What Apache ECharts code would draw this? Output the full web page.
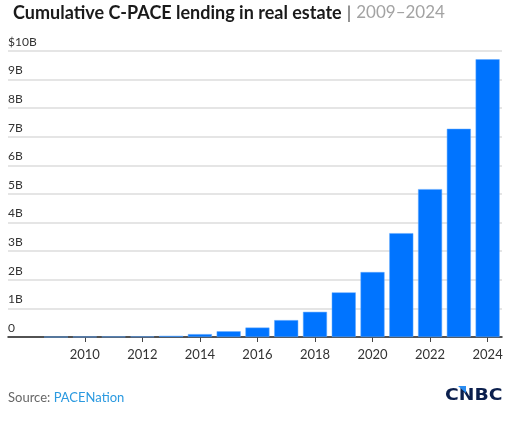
<!DOCTYPE html>
<html>
<head>
<meta charset="utf-8">
<script src="https://cdn.jsdelivr.net/npm/echarts@6/dist/echarts.min.js"></script>
<style>
  html, body { margin: 0; padding: 0; background: #fff; }
  #chart { width: 519px; height: 421px; }
</style>
</head>
<body>
<div id="chart"></div>
<script>
// cumulative lending, billions of dollars
var years = [2009, 2010, 2011, 2012, 2013, 2014, 2015, 2016, 2017, 2018, 2019, 2020, 2021, 2022, 2023, 2024];
var lending = [0, 0.005, 0.01, 0.015, 0.04, 0.1, 0.2, 0.33, 0.59, 0.88, 1.56, 2.27, 3.63, 5.17, 7.28, 9.71];
var yearTicks = [2010, 2012, 2014, 2016, 2018, 2020, 2022, 2024];

var font = 'Lato, "Open Sans", sans-serif';

var seriesData = [];
for (var i = 0; i < years.length; i++) {
    seriesData.push([years[i], lending[i]]);
}

var myChart = echarts.init(document.getElementById('chart'));
var option = {
    animation: false,
    title: {
        left: 8,
        top: -1,
        text: '{a|Cumulative C-PACE lending in real estate} {p||} {b|2009–2024}',
        textStyle: {
            rich: {
                a: { fontFamily: font, fontSize: 18, fontWeight: 'bold', color: '#1a1a1a' },
                p: { fontFamily: font, fontSize: 18, fontWeight: 'normal', color: '#555' },
                b: { fontFamily: font, fontSize: 17, fontWeight: 'normal', color: '#a3a3a3' }
            }
        }
    },
    grid: {
        left: 8,
        right: 17,
        top: 51,
        bottom: 84
    },
    xAxis: {
        type: 'value',
        min: 2007.33,
        max: 2024.5,
        splitLine: { show: false },
        axisLine: { show: true, onZero: false, lineStyle: { color: '#222', width: 1.5 } },
        axisTick: {
            show: true,
            length: 5,
            customValues: yearTicks,
            lineStyle: { color: '#444', width: 1 }
        },
        axisLabel: {
            customValues: yearTicks,
            margin: 11,
            fontFamily: font,
            fontSize: 13,
            color: '#333',
            formatter: function (v) { return String(v); }
        }
    },
    yAxis: {
        type: 'value',
        min: 0,
        max: 10,
        interval: 1,
        axisLine: { show: false },
        axisTick: { show: false },
        splitLine: { lineStyle: { color: '#dcdcdc', width: 1.5 } },
        axisLabel: {
            inside: true,
            margin: 0,
            verticalAlign: 'bottom',
            padding: [0, 0, 3, 0],
            fontFamily: font,
            fontSize: 12,
            color: '#333',
            formatter: function (v) {
                if (v === 10) return '$10B';
                if (v === 0) return '0';
                return v + 'B';
            }
        }
    },
    series: [
        {
            type: 'bar',
            data: seriesData,
            barWidth: 24,
            itemStyle: {
                color: '#0074ff',
                borderColor: '#5ea8ff',
                borderWidth: 0.5
            }
        }
    ],
    graphic: [
        {
            type: 'text',
            left: 8,
            top: 391,
            style: {
                text: '{s|Source: }{n|PACENation}',
                rich: {
                    s: { fontFamily: font, fontSize: 13, fill: '#666' },
                    n: { fontFamily: font, fontSize: 13, fill: '#2b9ae0' }
                }
            }
        },
        {
            // logo, stretched a bit to get the wide letters
            type: 'text',
            x: 445,
            y: 389,
            scaleX: 1.25,
            style: {
                text: 'CNBC',
                fontFamily: '"DejaVu Sans", sans-serif',
                fontSize: 15,
                fontWeight: 'bold',
                fill: '#0b1f4d',
                verticalAlign: 'top'
            }
        },
        {
            type: 'polygon',
            shape: { points: [[458, 386], [466, 386], [466, 393]] },
            style: { fill: '#2a8cf0' }
        }
    ]
};
myChart.setOption(option);
window.onresize = myChart.resize;
</script>
</body>
</html>
